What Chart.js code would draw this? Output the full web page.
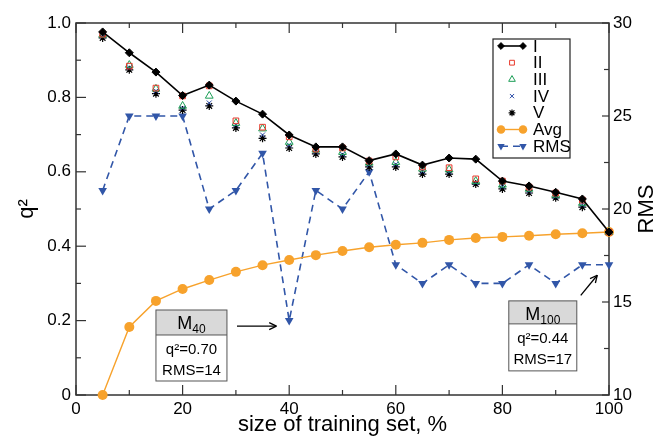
<!DOCTYPE html>
<html lang="en">
<head>
  <meta charset="UTF-8" />
  <title>q2 and RMS vs size of training set</title>
  <style>
    html, body { margin: 0; padding: 0; background: #fff; }
    #wrap { width: 657px; height: 439px; }
  </style>
</head>
<body>
  <div id="wrap"><canvas id="myChart" width="657" height="439"></canvas></div>

  <script src="https://cdn.jsdelivr.net/npm/chart.js@4.4.0/dist/chart.umd.min.js"></script>
  <script>
    // data
    const sizes = [5, 10, 15, 20, 25, 30, 35, 40, 45, 50, 55, 60, 65, 70, 75, 80, 85, 90, 95, 100];
    const q2I   = [0.976, 0.920, 0.868, 0.805, 0.833, 0.790, 0.755, 0.699, 0.667, 0.667, 0.630, 0.648, 0.618, 0.637, 0.634, 0.575, 0.562, 0.545, 0.527, 0.438];
    const q2II  = [0.970, 0.884, 0.825, 0.804, 0.831, 0.737, 0.720, 0.694, 0.661, 0.664, 0.629, 0.640, 0.613, 0.611, 0.581, 0.575, 0.559, 0.543, 0.524, 0.438];
    const q2III = [0.968, 0.887, 0.823, 0.777, 0.804, 0.731, 0.716, 0.680, 0.659, 0.653, 0.624, 0.626, 0.608, 0.606, 0.575, 0.565, 0.554, 0.538, 0.516, 0.438];
    const q2IV  = [0.965, 0.880, 0.817, 0.771, 0.785, 0.726, 0.699, 0.672, 0.654, 0.647, 0.619, 0.620, 0.601, 0.600, 0.571, 0.560, 0.549, 0.534, 0.511, 0.438];
    const q2V   = [0.960, 0.874, 0.810, 0.766, 0.777, 0.718, 0.690, 0.664, 0.648, 0.640, 0.613, 0.613, 0.594, 0.594, 0.567, 0.554, 0.543, 0.530, 0.505, 0.438];
    const q2Avg = [0.000, 0.183, 0.253, 0.285, 0.309, 0.331, 0.349, 0.363, 0.376, 0.387, 0.397, 0.404, 0.409, 0.417, 0.422, 0.425, 0.428, 0.432, 0.435, 0.438];
    const rms   = [21, 25, 25, 25, 20, 21, 23, 14, 21, 20, 22, 17, 16, 17, 16, 16, 17, 16, 17, 17];

    const xTicks = [0, 20, 40, 60, 80, 100];
    const q2Ticks = [0, 0.2, 0.4, 0.6, 0.8, 1.0];
    const rmsTicks = [10, 15, 20, 25, 30];

    const FONT = "'Liberation Sans', Arial, Helvetica, sans-serif";
    const pts = arr => sizes.map((x, i) => ({ x: x, y: arr[i] }));

    const datasets = [
      { label: 'I', data: pts(q2I), showLine: true, borderColor: '#000', backgroundColor: '#000',
        borderWidth: 1.6, pointStyle: 'rectRot', pointRadius: 4, pointBorderWidth: 1 },
      { label: 'II', data: pts(q2II), showLine: false, borderColor: '#e8392b', backgroundColor: 'rgba(0,0,0,0)',
        pointStyle: 'rect', pointRadius: 4, pointBorderWidth: 1 },
      { label: 'III', data: pts(q2III), showLine: false, borderColor: '#1b9e56', backgroundColor: 'rgba(0,0,0,0)',
        pointStyle: 'triangle', pointRadius: 4.5, pointBorderWidth: 1 },
      { label: 'IV', data: pts(q2IV), showLine: false, borderColor: '#2b4ca8', backgroundColor: 'rgba(0,0,0,0)',
        pointStyle: 'crossRot', pointRadius: 3.5, pointBorderWidth: 1 },
      { label: 'V', data: pts(q2V), showLine: false, borderColor: '#000', backgroundColor: 'rgba(0,0,0,0)',
        pointStyle: 'star', pointRadius: 4, pointBorderWidth: 1.2 },
      { label: 'Avg', data: pts(q2Avg), showLine: true, borderColor: '#f7a22c', backgroundColor: '#f7a22c',
        borderWidth: 1.4, pointStyle: 'circle', pointRadius: 5, pointBorderWidth: 0 },
      { label: 'RMS', data: pts(rms), yAxisID: 'y2', showLine: true, borderColor: '#3156a8', backgroundColor: '#3156a8',
        borderWidth: 1.6, borderDash: [7, 5], pointStyle: 'triangle', rotation: 180, pointRadius: 5, pointBorderWidth: 0 }
    ];
    datasets.forEach(d => { d.clip = false; d.tension = 0; });

    // boxed notes with arrows, anchored in data units
    const notes = [
      { sub: '40', lines: ['q\u00b2=0.70', 'RMS=14'], x: 15.0, y: 0.2285, w: 71, h: 71, head: 25,
        from: [30.2, 0.185], to: [37.6, 0.185] },
      { sub: '100', lines: ['q\u00b2=0.44', 'RMS=17'], x: 81.2, y: 0.253, w: 68, h: 70, head: 23,
        from: [94.7, 0.268], to: [97.8, 0.322] }
    ];

    function line(ctx, x1, y1, x2, y2) {
      ctx.beginPath(); ctx.moveTo(x1, y1); ctx.lineTo(x2, y2); ctx.stroke();
    }

    // frame + inward ticks
    const framePlugin = {
      id: 'frame',
      beforeDatasetsDraw(chart) {
        const { ctx, chartArea: a, scales } = chart;
        ctx.save();
        ctx.strokeStyle = '#333';
        ctx.lineWidth = 1.5;
        ctx.strokeRect(a.left, a.top, a.right - a.left, a.bottom - a.top);
        ctx.lineWidth = 1.2;
        for (let v = 0; v <= 100; v += 10) {
          const px = scales.x.getPixelForValue(v);
          const len = v % 20 === 0 ? 10 : 5;
          line(ctx, px, a.bottom, px, a.bottom - len);
          line(ctx, px, a.top, px, a.top + len);
        }
        for (let i = 0; i <= 10; i++) {
          const py = scales.y.getPixelForValue(i / 10);
          line(ctx, a.left, py, a.left + (i % 2 === 0 ? 10 : 5), py);
        }
        for (let v = 10; v <= 30; v += 2.5) {
          const py = scales.y2.getPixelForValue(v);
          line(ctx, a.right, py, a.right - (v % 5 === 0 ? 7 : 5), py);
        }
        ctx.restore();
      },
      afterDraw(chart) {
        const { ctx, chartArea: a, scales } = chart;
        ctx.save();
        // right axis title, reading upwards
        ctx.fillStyle = '#000';
        ctx.font = '22px ' + FONT;
        ctx.textAlign = 'center';
        ctx.textBaseline = 'middle';
        ctx.translate(647, (a.top + a.bottom) / 2);
        ctx.rotate(-Math.PI / 2);
        ctx.fillText('RMS', 0, 0);
        ctx.restore();

        // legend
        const lx = 493, ly = 39, lw = 77, lh = 119;
        ctx.save();
        ctx.fillStyle = '#fff';
        ctx.fillRect(lx, ly, lw, lh);
        ctx.strokeStyle = '#222';
        ctx.lineWidth = 1.2;
        ctx.strokeRect(lx, ly, lw, lh);
        chart.data.datasets.forEach((d, i) => {
          const y = ly + 7 + i * 16.7;
          const opts = { pointStyle: d.pointStyle, radius: d.pointRadius * 0.85, rotation: d.rotation || 0,
            borderWidth: d.pointBorderWidth };
          ctx.strokeStyle = d.borderColor;
          ctx.fillStyle = d.backgroundColor;
          if (d.showLine) {
            ctx.lineWidth = d.borderWidth;
            ctx.setLineDash(d.borderDash || []);
            line(ctx, 501, y, 523, y);
            ctx.setLineDash([]);
            [501, 523].forEach(px => {
              ctx.lineWidth = opts.borderWidth;
              Chart.helpers.drawPoint(ctx, opts, px, y);
            });
          } else {
            ctx.lineWidth = opts.borderWidth;
            Chart.helpers.drawPoint(ctx, opts, 512, y);
          }
          ctx.fillStyle = '#000';
          ctx.font = '17px ' + FONT;
          ctx.textAlign = 'left';
          ctx.textBaseline = 'middle';
          ctx.fillText(d.label, 533, y + 1);
        });
        ctx.restore();

        // notes
        notes.forEach(n => {
          const bx = scales.x.getPixelForValue(n.x);
          const by = scales.y.getPixelForValue(n.y);
          ctx.save();
          ctx.fillStyle = '#fff';
          ctx.fillRect(bx, by, n.w, n.h);
          ctx.fillStyle = '#d9d9d9';
          ctx.fillRect(bx, by, n.w, n.head);
          ctx.strokeStyle = '#555';
          ctx.lineWidth = 1;
          ctx.strokeRect(bx, by, n.w, n.h);
          line(ctx, bx, by + n.head, bx + n.w, by + n.head);

          ctx.fillStyle = '#000';
          ctx.textBaseline = 'alphabetic';
          ctx.textAlign = 'left';
          ctx.font = '18px ' + FONT;
          const mw = ctx.measureText('M').width;
          ctx.font = '12px ' + FONT;
          const sw = ctx.measureText(n.sub).width;
          let tx = bx + n.w / 2 - (mw + sw) / 2;
          ctx.font = '18px ' + FONT;
          ctx.fillText('M', tx, by + 19);
          ctx.font = '12px ' + FONT;
          ctx.fillText(n.sub, tx + mw, by + 23);

          ctx.font = '15px ' + FONT;
          ctx.textAlign = 'center';
          ctx.fillText(n.lines[0], bx + n.w / 2, by + n.head + 19);
          ctx.fillText(n.lines[1], bx + n.w / 2, by + n.head + 40);

          // arrow
          const x1 = scales.x.getPixelForValue(n.from[0]), y1 = scales.y.getPixelForValue(n.from[1]);
          const x2 = scales.x.getPixelForValue(n.to[0]), y2 = scales.y.getPixelForValue(n.to[1]);
          ctx.strokeStyle = '#000';
          ctx.lineWidth = 1.3;
          line(ctx, x1, y1, x2, y2);
          const ang = Math.atan2(y2 - y1, x2 - x1);
          [-0.45, 0.45].forEach(d => {
            line(ctx, x2, y2, x2 - 8 * Math.cos(ang + d), y2 - 8 * Math.sin(ang + d));
          });
          ctx.restore();
        });
      }
    };

    const tickFont = { family: FONT, size: 17 };

    const ctx = document.getElementById('myChart').getContext('2d');
    const myChart = new Chart(ctx, {
      type: 'line',
      data: { datasets: datasets },
      options: {
        responsive: false,
        animation: false,
        layout: { padding: { top: 23, left: 0, right: 0, bottom: 0 } },
        plugins: { legend: { display: false }, tooltip: { enabled: false } },
        scales: {
          x: {
            type: 'linear', min: 0, max: 100,
            afterFit: s => { s.height = 44; },
            afterBuildTicks: s => { s.ticks = xTicks.map(v => ({ value: v })); },
            grid: { display: false, drawTicks: false },
            border: { display: false },
            ticks: { font: tickFont, color: '#000', padding: 4, maxRotation: 0, autoSkip: false },
            title: { display: true, text: 'size of training set, %', font: { family: FONT, size: 22 },
              color: '#000', padding: { top: 0, bottom: 1 } }
          },
          y: {
            type: 'linear', position: 'left', min: 0, max: 1,
            afterFit: s => { s.width = 76; },
            afterBuildTicks: s => { s.ticks = q2Ticks.map(v => ({ value: v })); },
            grid: { display: false, drawTicks: false },
            border: { display: false },
            ticks: { font: tickFont, color: '#000', padding: 5,
              callback: v => (v === 0 ? '0' : v.toFixed(1)) },
            title: { display: true, text: 'q\u00b2', font: { family: FONT, size: 22 },
              color: '#000', padding: { top: 14, bottom: 0 } }
          },
          y2: {
            type: 'linear', position: 'right', min: 10, max: 30,
            afterFit: s => { s.width = 48; },
            afterBuildTicks: s => { s.ticks = rmsTicks.map(v => ({ value: v })); },
            grid: { display: false, drawTicks: false },
            border: { display: false },
            ticks: { font: tickFont, color: '#000', padding: 4 }
          }
        }
      },
      plugins: [framePlugin]
    });
  </script>
</body>
</html>
